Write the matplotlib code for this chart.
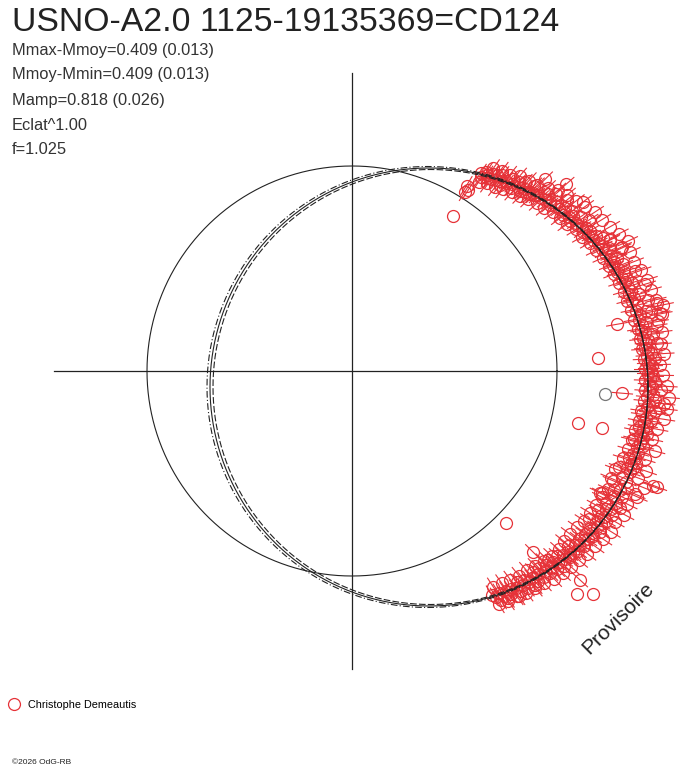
import numpy as np
import matplotlib
matplotlib.use("Agg")
import matplotlib.pyplot as plt
from matplotlib.lines import Line2D
from matplotlib.collections import LineCollection

plt.rcParams["font.family"] = ["Liberation Sans", "DejaVu Sans"]

title = "USNO-A2.0 1125-19135369=CD124"
info_lines = ["Mmax-Mmoy=0.409 (0.013)", "Mmoy-Mmin=0.409 (0.013)",
              "Mamp=0.818 (0.026)", "Eclat^1.00", "f=1.025"]
observer = "Christophe Demeautis"

# polar light curve: phase angle (deg) and radius (same units as the plot)
phase = [57, 56.5, 56, 55.5, 55, 54.5, 54, 53.5, 53, 52.5, 52, 51.5, 51, 50.5, 50,
         49.5, 49, 48.5, 48, 47.5, 47, 46.5, 46, 45.5, 45, 44.5, 44,
         43.5, 43, 42.5, 42, 41.5, 41, 40.5, 40, 39.5, 39, 38.5, 38, 37.5, 37,
         36.5, 36, 35.5, 35, 34.5, 34, 33.5, 33, 32.5, 32, 31.5, 31, 30.5, 30,
         29.5, 29, 28.5, 28, 27.5, 27, 26.5, 26, 25.5, 25, 24.5, 24, 23.5, 23,
         22.5, 22, 21.5, 21, 20.5, 20, 19.5, 19, 18.5, 18, 17.5, 17, 16.5, 16, 15.5, 15,
         14.5, 14, 13.5, 13, 12.5, 12, 11.5, 11, 10.5, 10, 9.5, 9, 8.5, 8, 7.5,
         7, 6.5, 6, 5.5, 5, 4.5, 4, 3.5, 3, 2.5, 2, 1.5, 1, 0.5, 0,
         -0.5, -1, -1.5, -2, -2.5, -3, -3.5, -4, -4.5, -5, -5.5, -6, -6.5, -7, -7.5,
         -8, -8.5, -9, -9.5, -10, -10.5, -11, -11.5, -12, -12.5, -13, -13.5, -14, -14.5, -15,
         -16, -16.5, -17, -17.5, -18, -18.5, -19, -19.5, -20,
         -20.5, -21, -21.5, -22, -22.5, -23, -23.5, -24, -24.5, -25, -25.5, -26, -26.5,
         -27, -27.5, -28, -28.5, -29, -29.5, -30, -30.5, -31, -31.5, -32, -32.5, -33,
         -33.5, -34, -34.5, -35, -35.5, -36, -36.5, -37, -37.5, -38, -38.5, -39, -39.5, -40,
         -40.5, -41, -41.5, -42, -42.5, -43, -43.5, -44, -44.5, -45, -45.5, -46, -46.5,
         -47, -47.5, -48, -48.5, -49, -49.5, -50, -50.5, -51, -51.5, -52, -52.5, -53,
         -53.5, -54, -54.5, -55, -55.5, -56, -56.5, -57, -57.5, -58,
         44.8, 41.1, 36.2, 26.9, 24.7, -6.9, -20.8, -20.4, -26.2, 10.7, 12.0, -4.7,
         10.0, -42.5, -45, -44, 57.3, 57.8, 58.3,
         56.2, 55.1, 54.3, 53.2, 52.1, 51.2, 50.3, 49.3, 48.2, 47.1,
         46.2, 45.1, 44.2, 43.1, 42.2, 41.3, 40.2, 39.3, 38.3, 37.2,
         36.3, 35.2, 34.3, 33.2, 32.3, 31.2, 30.3, 29.2, 28.3, 27.2,
         26.3, 25.2, 24.3, 23.2, 22.3, 21.2, 20.3, 19.2, 18.3, 17.2,
         16.3, 15.2, 14.3, 13.2, 12.3, 11.2, 10.3, 9.2, 8.3, 7.2,
         6.3, 5.2, 4.3, 3.2, 2.3, 1.2, 0.3, -0.8, -1.8, -2.8,
         -3.8, -4.8, -5.8, -6.8, -7.8, -8.8, -9.8, -10.8, -11.8, -12.8,
         -13.8, -14.8, -15.8, -16.8, -17.8, -18.8, -19.8, -21.8, -22.8, -23.8,
         -24.8, -25.8, -26.8, -27.8, -28.8, -29.8, -30.8, -31.8, -32.8, -33.8,
         -34.8, -35.8, -36.8, -37.8, -38.8, -39.8, -40.8, -41.8, -42.8, -43.8,
         -44.8, -45.8, -46.8, -47.8, -48.8, -49.8, -50.8, -51.8, -52.8, -53.8,
         -54.8, -55.8, -56.8, -57.8]
radius = [236, 233, 240, 238, 236, 242, 237, 244, 239, 247, 241, 238, 245, 243, 250,
          246, 243, 252, 248, 256, 246, 251, 249, 260, 250, 254, 253,
          255, 262, 256, 264, 258, 270, 260, 258, 266, 262, 275, 263, 268, 265,
          262, 272, 266, 270, 264, 276, 269, 268, 281, 271, 274, 270, 276, 272,
          275, 279, 274, 284, 277, 290, 280, 278, 285, 279, 296, 283, 281, 288,
          284, 282, 291, 285, 283, 289, 300, 286, 290, 287, 294, 289, 306, 290, 287, 297,
          291, 289, 304, 292, 312, 290, 300, 293, 315, 291, 298, 294, 308, 292, 296,
          303, 293, 298, 295, 310, 294, 297, 300, 295, 303, 298, 296, 300, 297, 299,
          296, 301, 298, 303, 297, 300, 310, 298, 302, 296, 304, 314, 299, 297, 306,
          301, 293, 298, 303, 296, 300, 292, 297, 302, 295, 299, 290, 297, 301, 295,
          298, 293, 296, 290, 299, 294, 297, 292, 296,
          305, 322, 290, 296, 280, 299, 309, 293, 288, 298, 290, 278, 295,
          301, 286, 293, 289, 297, 283, 291, 295, 287, 292, 280, 290, 296,
          285, 289, 292, 284, 290, 287, 282, 291, 286, 283, 289, 278, 286, 284,
          287, 280, 284, 276, 288, 281, 277, 285, 279, 274, 283, 278, 272,
          281, 276, 270, 280, 274, 282, 276, 271, 279, 274, 268, 277, 272,
          280, 270, 274, 268, 276, 271, 266, 273, 268, 264,
          272, 284, 286, 289, 297, 317, 326, 281, 276, 313, 318, 271,
          269, 309, 256, 272, 215, 212, 218,
          228, 247, 231, 250, 233, 252, 236, 257, 240, 260,
          243, 262, 246, 268, 250, 274, 252, 278, 256, 281,
          258, 285, 260, 290, 265, 292, 266, 296, 270, 300,
          272, 305, 275, 303, 278, 302, 279, 306, 281, 309,
          283, 310, 284, 312, 286, 305, 287, 310, 289, 312,
          290, 306, 291, 312, 292, 308, 293, 311, 293, 315,
          294, 318, 294, 309, 292, 316, 291, 311, 289, 308,
          288, 313, 287, 306, 285, 311, 284, 315, 283, 312,
          282, 306, 280, 308, 279, 303, 277, 305, 276, 302,
          274, 300, 272, 298, 272, 296, 273, 294, 272, 292,
          270, 290, 268, 286, 265, 284, 264, 282, 262, 279,
          260, 278, 258, 275]
sigma = 11

# isolated points without error bar
out_phase = [56.9, 3.0, -13, -12.8, -44.6, -44.7, -42.8]
out_radius = [185, 246, 232, 256, 216, 317, 328]
grey_phase = [-5.2]
grey_radius = [254]

ref_r = 205
fit_cx = [77, 78.5, 75.5]
fit_cy = [-16, -16, -16]
fit_r = [219, 217.5, 220.5]
fit_dash = [None, (6, 2), (6, 2, 1, 2)]
axis_half = 298

red = "#e63238"
ink = "#222222"

fig = plt.figure(figsize=(6.88, 7.68), dpi=100)
ax = fig.add_axes([0, 0, 1, 1])
ax.set_xlim(-352, 336)
ax.set_ylim(-397, 371)
ax.axis("off")

ax.plot([-axis_half, axis_half], [0, 0], color=ink, lw=0.9)
ax.plot([0, 0], [-axis_half, axis_half], color=ink, lw=0.9)

t = np.linspace(0, 2 * np.pi, 721)
ax.plot(ref_r * np.cos(t), ref_r * np.sin(t), color=ink, lw=0.8)

th = np.radians(phase)
r = np.array(radius, dtype=float)
x, y = r * np.cos(th), r * np.sin(th)
segs = np.stack([np.column_stack([(r - sigma) * np.cos(th), (r - sigma) * np.sin(th)]),
                 np.column_stack([(r + sigma) * np.cos(th), (r + sigma) * np.sin(th)])], axis=1)
ax.add_collection(LineCollection(segs, colors=red, linewidths=0.8))
ax.plot(x, y, "o", mfc="none", mec=red, ms=8.6, mew=0.9)

th_o = np.radians(out_phase)
ax.plot(np.array(out_radius) * np.cos(th_o), np.array(out_radius) * np.sin(th_o),
        "o", mfc="none", mec=red, ms=8.6, mew=0.9)
th_g = np.radians(grey_phase)
ax.plot(np.array(grey_radius) * np.cos(th_g), np.array(grey_radius) * np.sin(th_g),
        "o", mfc="none", mec="#777777", ms=8.6, mew=0.9)

for cx, cy, rr, dash in zip(fit_cx, fit_cy, fit_r, fit_dash):
    line, = ax.plot(cx + rr * np.cos(t), cy + rr * np.sin(t), color=ink, lw=0.8, zorder=5)
    if dash:
        line.set_dashes(dash)

ax.text(266, -247, "Provisoire", rotation=45, ha="center", va="center",
        fontsize=15, color=ink)

fig.text(12 / 688, 1 - 7 / 768, title, fontsize=24.3, color=ink, va="top")
for i, s in enumerate(info_lines):
    fig.text(12 / 688, 1 - (50 + 25 * i) / 768, s, fontsize=11.8, color="#333333", va="center")

handle = Line2D([], [], marker="o", ls="none", mfc="none", mec=red, ms=8.6, mew=0.9)
ax.legend([handle], [observer], loc="center left", bbox_to_anchor=(0.010, 1 - 705 / 768),
          bbox_transform=fig.transFigure, frameon=False, fontsize=7.8,
          handlelength=1.0, handletextpad=0.75, borderaxespad=0, borderpad=0.2)

fig.text(12 / 688, 1 - 762 / 768, "\u00a92026 OdG-RB", fontsize=6, color=ink, va="center")

fig.savefig("out.png", dpi=100)
